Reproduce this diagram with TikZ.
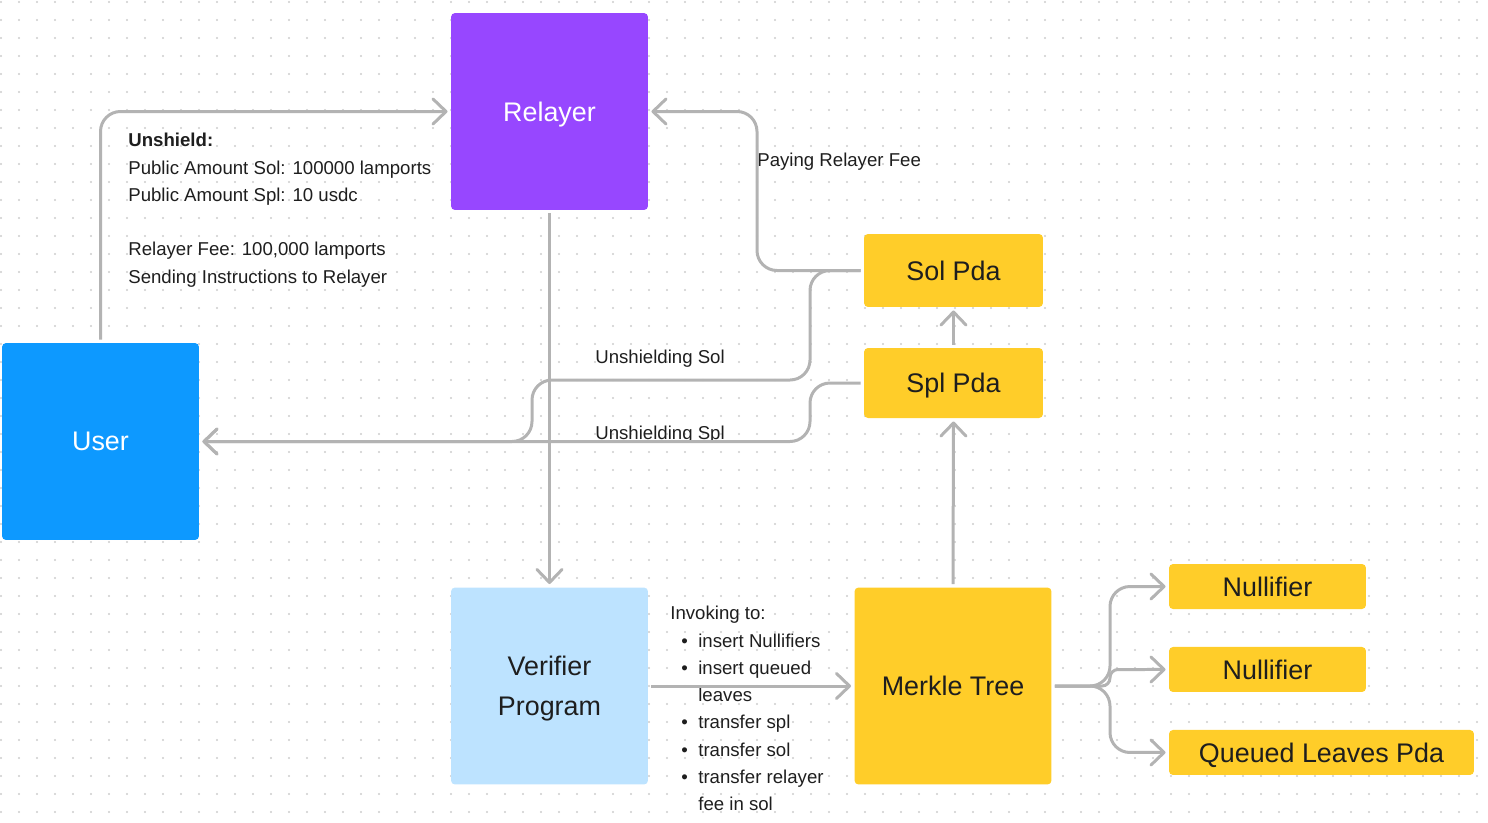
\documentclass[tikz,border=0pt]{standalone}
\usepackage{fontspec}
\setmainfont{Liberation Sans}
\usepackage{tikz}
\usetikzlibrary{positioning, arrows.meta}
\usepackage{xcolor}
\definecolor{relayer-purple}{HTML}{9747FF}
\definecolor{user-blue}{HTML}{0D99FF}
\definecolor{verifier-blue}{HTML}{BDE3FF}
\definecolor{pda-yellow}{HTML}{FFCD29}
\definecolor{wire-gray}{HTML}{B3B3B3}
\definecolor{dot-gray}{HTML}{CDCDCD}
\definecolor{ink}{HTML}{1E1E1E}

\begin{document}
\begin{tikzpicture}[x=0.02cm, y=-0.02cm,
	box/.style={rectangle, rounded corners=0.08cm, outer sep=0.07cm, inner sep=0pt, align=center, text depth=0pt, text=ink, font=\fontsize{15.3pt}{22.7pt}\selectfont},
	bigbox/.style={box, minimum width=3.94cm, minimum height=3.94cm},
	pda/.style={box, fill=pda-yellow},
	flow/.style={draw=wire-gray, line width=0.06cm, rounded corners=0.4cm, -{Straight Barb[length=0.26cm, width=0.5cm, round]}},
	lbl/.style={inner sep=0pt, align=left, text=ink, font=\fontsize{10.6pt}{15.5pt}\selectfont}]
						\useasboundingbox (0,0) rectangle (1488,822);
						\foreach \i in {0,...,82}
							\foreach \j in {0,...,45}
								\fill[dot-gray] (\i*18+1,\j*18+2) circle[radius=0.022cm];
						\node[bigbox, fill=relayer-purple, text=white] (relayer) at (549.5,111.5) {Relayer};
						\node[bigbox, fill=user-blue, text=white] (user) at (100.5,441.5) {User};
						\node[bigbox, fill=verifier-blue] (verifier) at (549.5,686) {Verifier\\Program};
						\node[bigbox, pda] (merkle) at (953,686) {Merkle Tree};
						\node[pda, minimum width=3.58cm, minimum height=1.46cm] (solpda) at (953.5,270.5) {Sol Pda};
						\node[pda, minimum width=3.58cm, minimum height=1.4cm] (splpda) at (953.5,383) {Spl Pda};
						\node[pda, minimum width=3.94cm, minimum height=0.9cm] (nul1) at (1267.5,586.5) {Nullifier};
						\node[pda, minimum width=3.94cm, minimum height=0.9cm, below=0.62cm of nul1] (nul2) {Nullifier};
						\node[pda, minimum width=6.1cm, minimum height=0.9cm, below=0.62cm of nul2.south west, anchor=north west] (queued) {Queued Leaves Pda};
						\node[lbl, anchor=north west] (unshield) at (128,133) {\textbf{Unshield:}\\Public Amount Sol: 100000 lamports\\Public Amount Spl: 10 usdc\\[15.5pt]Relayer Fee: 100,000 lamports\\Sending Instructions to Relayer};
						\node[lbl, anchor=base west] (feelabel) at (757,166) {Paying Relayer Fee};
						\node[lbl, anchor=base west] (sollabel) at (595,363) {Unshielding Sol};
						\node[lbl, anchor=base west] (spllabel) at (595,439) {Unshielding Spl};
						\node[lbl, anchor=north west] (invoke) at (670,606) {Invoking to:\\
							\hspace*{0.22cm}\makebox[0.34cm][l]{\textbullet}insert Nullifiers\\
							\hspace*{0.22cm}\makebox[0.34cm][l]{\textbullet}insert queued\\
							\hspace*{0.56cm}leaves\\
							\hspace*{0.22cm}\makebox[0.34cm][l]{\textbullet}transfer spl\\
							\hspace*{0.22cm}\makebox[0.34cm][l]{\textbullet}transfer sol\\
							\hspace*{0.22cm}\makebox[0.34cm][l]{\textbullet}transfer relayer\\
							\hspace*{0.56cm}fee in sol};
						\draw[flow] (user.north) -- (user.north |- relayer.west) -- (relayer.west);
						\draw[flow] (relayer.south) -- (verifier.north);
						\draw[flow] (solpda.west) -- (757,270.5) -- (757,111.5) -- (relayer.east);
						\draw[flow] (solpda.west) -- (810,270.5) -- (810,380) -- (532,380) -- (532,441.5) -- (user.east);
						\draw[flow] (splpda.west) -- (810,383) -- (810,441.5) -- (user.east);
						\draw[flow] (verifier.east) -- (merkle.west);
						\draw[flow] (merkle.north) -- (splpda.south);
						\draw[flow] (splpda.north) -- (solpda.south);
						\draw[flow] (merkle.east) -- (1110,686) -- (1110,586.5) -- (nul1.west);
						\draw[flow, rounded corners=0.16cm] (merkle.east) -- (1110,686) -- (1110,669.5) -- (nul2.west);
						\draw[flow] (merkle.east) -- (1110,686) -- (1110,752.5) -- (queued.west);
					\end{tikzpicture}
\end{document}
